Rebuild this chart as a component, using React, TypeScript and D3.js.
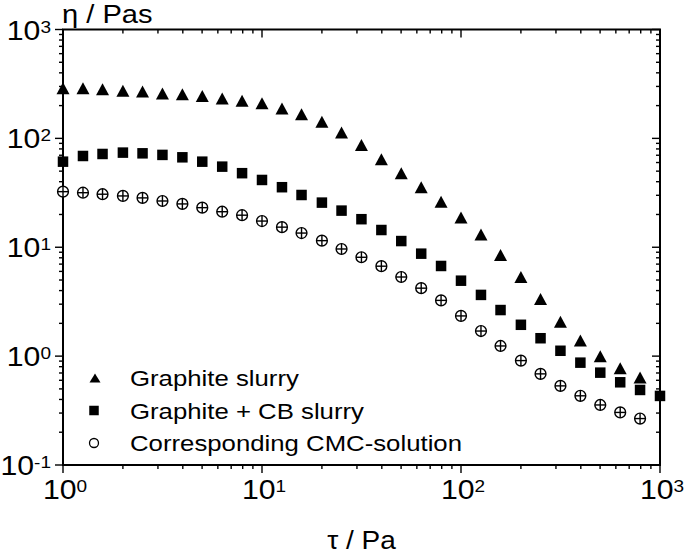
import React from "react";
import * as d3 from "d3";

const tau = [1, 1.26, 1.58, 2, 2.51, 3.16, 3.98, 5.01, 6.31, 7.94, 10, 12.6, 15.8, 20, 25.1, 31.6, 39.8, 50.1, 63.1, 79.4, 100, 126, 158, 200, 251, 316, 398, 501, 631, 794, 1000];
const graphite = [288, 288, 282, 274, 269, 259, 254, 245, 233, 222, 210, 188, 167, 142, 113, 86.9, 64.3, 47.9, 35.6, 26.2, 18.8, 13.1, 8.49, 5.33, 3.35, 2.07, 1.39, 1.0, 0.774, 0.635];
const graphiteCB = [61.1, 68.9, 71.9, 74.0, 72.9, 70.5, 67.0, 61.1, 55.0, 47.9, 41.5, 35.6, 30.2, 25.7, 21.7, 18.1, 14.4, 11.4, 8.73, 6.73, 4.93, 3.65, 2.65, 1.94, 1.46, 1.12, 0.871, 0.705, 0.575, 0.489, 0.431];
const cmc = [32.4, 31.7, 30.7, 29.6, 28.4, 26.6, 25.0, 23.1, 21.2, 19.7, 17.4, 15.3, 13.5, 11.5, 9.64, 8.09, 6.70, 5.33, 4.21, 3.25, 2.34, 1.70, 1.24, 0.910, 0.687, 0.533, 0.432, 0.356, 0.304, 0.267];
const seriesNames = ["Graphite slurry", "Graphite + CB slurry", "Corresponding CMC-solution"];
const xTickExp = [0, 1, 2, 3];
const yTickExp = [-1, 0, 1, 2, 3];
const xTitle = "τ / Pa";
const yTitle = "η / Pas";

const FONT = "'Liberation Sans', Arial, Helvetica, sans-serif";
const SX = 1.12;

const L = 63, R = 660, T = 29.5, B = 465;
const x = d3.scaleLog().domain([1, 1000]).range([L, R]);
const y = d3.scaleLog().domain([0.1, 1000]).range([B, T]);

function minorTicks(lo: number, hi: number) {
  const out: number[] = [];
  for (let e = lo; e < hi; e++) {
    for (let m = 2; m <= 9; m++) out.push(m * Math.pow(10, e));
  }
  return out;
}

function STxt({ x0, y0, anchor, size, children }: any) {
  return (
    <text transform={`translate(${x0},${y0}) scale(${SX},1)`} textAnchor={anchor} fontSize={size} fontFamily={FONT} fill="#000">
      {children}
    </text>
  );
}

function Pow({ e }: { e: number }) {
  return (
    <>
      <tspan>10</tspan>
      <tspan dy={-7} fontSize={17}>{e}</tspan>
    </>
  );
}

function Tri({ cx, cy, w, h }: any) {
  const p = d3.path();
  p.moveTo(cx, cy - h / 2);
  p.lineTo(cx + w / 2, cy + h / 2);
  p.lineTo(cx - w / 2, cy + h / 2);
  p.closePath();
  return <path d={p.toString()} fill="#000" />;
}

function Sq({ cx, cy, s }: any) {
  return <rect x={cx - s / 2} y={cy - s / 2} width={s} height={s} fill="#000" />;
}

function CirPlus({ cx, cy, r }: any) {
  return (
    <g stroke="#000" strokeWidth={1.4} fill="none">
      <circle cx={cx} cy={cy} r={r} fill="#fff" />
      <line x1={cx - r} x2={cx + r} y1={cy} y2={cy} />
      <line x1={cx} x2={cx} y1={cy - r} y2={cy + r} />
    </g>
  );
}

export default function App() {
  const xMinor = minorTicks(0, 3);
  const yMinor = minorTicks(-1, 3);
  const xMajor = xTickExp.map((e) => Math.pow(10, e));
  const yMajor = yTickExp.map((e) => Math.pow(10, e));
  const legendY = [386, 418.5, 451];
  return (
    <svg width={685} height={556} style={{ position: "absolute", left: 0, top: 0, background: "#fff" }}>
      <rect width={685} height={556} fill="#fff" />
      <g stroke="#000" strokeWidth={1.4}>
        {xMinor.map((v, i) => (
          <g key={"xm" + i}>
            <line x1={x(v)} x2={x(v)} y1={B} y2={B + 4} />
            <line x1={x(v)} x2={x(v)} y1={T} y2={T + 4} />
          </g>
        ))}
        {xMajor.map((v, i) => (
          <g key={"xM" + i}>
            <line x1={x(v)} x2={x(v)} y1={B} y2={B + 8} />
            <line x1={x(v)} x2={x(v)} y1={T} y2={T + 8} />
          </g>
        ))}
        {yMinor.map((v, i) => (
          <g key={"ym" + i}>
            <line x1={L - 4} x2={L} y1={y(v)} y2={y(v)} />
            <line x1={R - 4} x2={R} y1={y(v)} y2={y(v)} />
          </g>
        ))}
        {yMajor.map((v, i) => (
          <g key={"yM" + i}>
            <line x1={L - 8} x2={L} y1={y(v)} y2={y(v)} />
            <line x1={R - 8} x2={R} y1={y(v)} y2={y(v)} />
          </g>
        ))}
      </g>
      <rect x={L} y={T} width={R - L} height={B - T} fill="none" stroke="#000" strokeWidth={2} />
      {xTickExp.map((e) => (
        <STxt key={"xl" + e} x0={x(Math.pow(10, e)) + 2} y0={499} anchor="middle" size={27}>
          <Pow e={e} />
        </STxt>
      ))}
      {yTickExp.map((e) => (
        <STxt key={"yl" + e} x0={51} y0={y(Math.pow(10, e)) + 10} anchor="end" size={27}>
          <Pow e={e} />
        </STxt>
      ))}
      <STxt x0={62} y0={23} anchor="start" size={26}>{yTitle}</STxt>
      <STxt x0={361.5} y0={549} anchor="middle" size={25}>{xTitle}</STxt>
      {cmc.map((v, i) => (
        <CirPlus key={"c" + i} cx={x(tau[i])} cy={y(v)} r={5.4} />
      ))}
      {graphiteCB.map((v, i) => (
        <Sq key={"s" + i} cx={x(tau[i])} cy={y(v)} s={10.5} />
      ))}
      {graphite.map((v, i) => (
        <Tri key={"t" + i} cx={x(tau[i])} cy={y(v)} w={13} h={12} />
      ))}
      <Tri cx={95} cy={legendY[0] - 8} w={11} h={9} />
      <Sq cx={94} cy={legendY[1] - 8} s={9.5} />
      <circle cx={94} cy={legendY[2] - 8} r={4.5} fill="none" stroke="#000" strokeWidth={1.3} />
      {seriesNames.map((n, i) => (
        <STxt key={"ln" + i} x0={130} y0={legendY[i]} anchor="start" size={23}>{n}</STxt>
      ))}
    </svg>
  );
}
